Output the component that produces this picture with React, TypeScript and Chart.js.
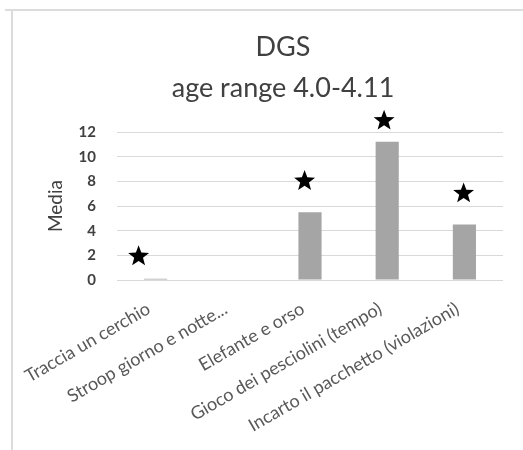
import React, { useEffect, useRef } from "react";
import { Chart, registerables } from "chart.js";

Chart.register(...registerables);

const titleLines = ["DGS", "age range 4.0-4.11"];
const categories = [
  "Traccia un cerchio",
  "Stroop giorno e notte...",
  "Elefante e orso",
  "Gioco dei pesciolini (tempo)",
  "Incarto il pacchetto (violazioni)",
];
const mediaValues = [0.1, null, 5.5, 11.2, 4.5];
const starX = [-0.22, 1.93, 2.96, 3.99];
const starY = [2.0, 8.1, 13.0, 7.1];
const yTicks = [0, 2, 4, 6, 8, 10, 12];

const starPlugin = {
  id: "stars",
  afterDatasetsDraw(chart: any) {
    const { ctx, scales } = chart;
    const xs = scales.x;
    const ys = scales.y;
    ctx.save();
    ctx.fillStyle = "#000";
    starX.forEach((sx, i) => {
      const cx = xs.getPixelForValue(sx);
      const cy = ys.getPixelForValue(starY[i]);
      const outer = 11;
      const inner = outer * 0.42;
      ctx.beginPath();
      for (let k = 0; k < 10; k++) {
        const r = k % 2 === 0 ? outer : inner;
        const a = -Math.PI / 2 + (k * Math.PI) / 5;
        const px = cx + r * Math.cos(a);
        const py = cy + 1 + r * Math.sin(a);
        if (k === 0) ctx.moveTo(px, py);
        else ctx.lineTo(px, py);
      }
      ctx.closePath();
      ctx.fill();
    });
    ctx.restore();
  },
};

const titlePlugin = {
  id: "twoLineTitle",
  afterDraw(chart: any) {
    const { ctx } = chart;
    ctx.save();
    ctx.fillStyle = "#404040";
    ctx.font = "27px Lato";
    ctx.textAlign = "center";
    ctx.textBaseline = "middle";
    ctx.fillText(titleLines[0], 283, 47);
    ctx.fillText(titleLines[1], 283, 88);
    ctx.restore();
  },
};

export default function App() {
  const ref = useRef<HTMLCanvasElement | null>(null);
  useEffect(() => {
    if (!ref.current) return;
    const chart = new Chart(ref.current, {
      type: "bar",
      data: {
        labels: categories,
        datasets: [
          {
            label: "Media",
            data: mediaValues as any,
            backgroundColor: "#a5a5a5",
            barPercentage: 0.3,
            categoryPercentage: 1,
          },
        ],
      },
      plugins: [starPlugin, titlePlugin],
      options: {
        responsive: false,
        animation: false,
        layout: { padding: { left: 0, right: 20, top: 132, bottom: 0 } },
        plugins: {
          legend: { display: false },
          tooltip: { enabled: false },
          title: { display: false },
        },
        scales: {
          x: {
            type: "category",
            grid: { display: false },
            border: { display: false },
            afterFit: (s: any) => {
              s.height = 170;
            },
            ticks: {
              color: "#595959",
              font: { family: "Lato", size: 18 },
              minRotation: 30,
              maxRotation: 30,
              autoSkip: false,
              padding: 10,
              labelOffset: -7,
            },
          },
          y: {
            min: 0,
            max: 12,
            afterBuildTicks: (s: any) => {
              s.ticks = yTicks.map((v) => ({ value: v }));
            },
            afterFit: (s: any) => {
              s.width = 117;
            },
            grid: { color: "#d9d9d9", drawTicks: false, lineWidth: 1 },
            border: { display: false },
            ticks: {
              color: "#404040",
              font: { family: "Lato", size: 15, weight: "bold" },
              padding: 21,
            },
            title: {
              display: true,
              text: "Media",
              color: "#404040",
              font: { family: "Lato", size: 19 },
              padding: { top: 44, bottom: 0 },
            },
          },
        },
      },
    });
    return () => chart.destroy();
  }, []);
  return (
    <div style={{ position: "fixed", left: 0, top: 0, width: 523, height: 450, background: "#fff" }}>
      <div
        style={{
          position: "absolute",
          left: 5,
          top: 9,
          right: 0,
          height: 0,
          borderTop: "2px solid #dcdcdc",
        }}
      />
      <div
        style={{
          position: "absolute",
          left: 11,
          top: 9,
          width: 0,
          bottom: 0,
          borderLeft: "2px solid #dcdcdc",
        }}
      />
      <canvas ref={ref} width={523} height={450} style={{ position: "absolute", left: 0, top: 0 }} />
    </div>
  );
}
